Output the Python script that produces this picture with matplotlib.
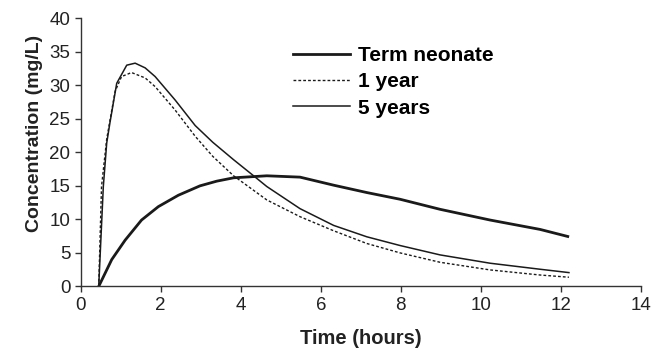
import matplotlib
matplotlib.use("Agg")
import matplotlib.pyplot as plt

plt.rcParams["font.family"] = ["Liberation Sans", "DejaVu Sans"]

# values
t_5yr = [0.45, 0.565, 0.65, 0.73, 0.9, 1.15, 1.36, 1.61, 1.86, 2.36, 2.86, 3.3, 3.82, 4.32,
         4.65, 5.48, 6.32, 7.15, 7.98, 8.98, 10.23, 11.48, 12.2]
c_5yr = [0.0, 14.9, 21.4, 24.4, 30.3, 33.0, 33.3, 32.6, 31.3, 27.8, 24.0, 21.5, 18.9, 16.5,
         14.9, 11.6, 9.1, 7.4, 6.1, 4.7, 3.46, 2.56, 2.06]

t_1yr = [0.45, 0.52, 0.65, 0.86, 1.02, 1.27, 1.61, 1.86, 2.36, 2.86, 3.3, 3.82, 4.65,
         5.48, 6.32, 7.15, 7.98, 8.98, 10.23, 11.48, 12.2]
c_1yr = [0.0, 14.9, 22.0, 29.1, 31.3, 31.9, 31.1, 29.8, 26.3, 22.4, 19.4, 16.5, 12.9,
         10.4, 8.3, 6.4, 5.0, 3.6, 2.46, 1.7, 1.37]

t_neo = [0.45, 0.775, 1.11, 1.52, 1.94, 2.44, 2.98, 3.4, 3.82, 4.65, 5.48, 6.32, 7.15, 7.98,
         8.98, 10.23, 11.48, 12.17]
c_neo = [0.0, 4.0, 6.9, 9.9, 11.9, 13.6, 15.0, 15.7, 16.2, 16.5, 16.3, 15.1, 14.0, 13.0,
         11.5, 9.9, 8.5, 7.45]

labels = ["Term neonate", "1 year", "5 years"]

fig = plt.figure(figsize=(6.67, 3.51), dpi=100)
ax = fig.add_axes([0.121, 0.184, 0.840, 0.764])

ax.plot(t_neo, c_neo, color="#1a1a1a", lw=2.0, label=labels[0])
ax.plot(t_1yr, c_1yr, color="#1a1a1a", lw=1.0, linestyle=(0, (2, 1.5)), label=labels[1])
ax.plot(t_5yr, c_5yr, color="#1a1a1a", lw=1.1, label=labels[2])

ax.set_xlim(0, 14)
ax.set_ylim(0, 40)
ax.set_xticks(range(0, 15, 2))
ax.set_yticks(range(0, 41, 5))
ax.spines["top"].set_visible(False)
ax.spines["right"].set_visible(False)
for s in ("left", "bottom"):
    ax.spines[s].set_color("#333333")
    ax.spines[s].set_linewidth(1.0)
ax.tick_params(direction="out", length=4, width=1, colors="#333333",
               labelsize=13.5, labelcolor="#222222")

ax.set_xlabel("Time (hours)", fontsize=14.5, fontweight="bold", color="#222222", labelpad=11)
ax.set_ylabel("Concentration (mg/L)", fontsize=14, fontweight="bold", color="#222222")
ax.yaxis.set_label_coords(-0.067, 0.57)

ax.legend(loc="upper left", bbox_to_anchor=(0.379, 0.896), frameon=False,
          borderpad=0, borderaxespad=0, handlelength=2.74, handletextpad=0.38,
          labelspacing=0.35, prop={"size": 15, "weight": "bold"})

fig.savefig("out.png", dpi=100)
